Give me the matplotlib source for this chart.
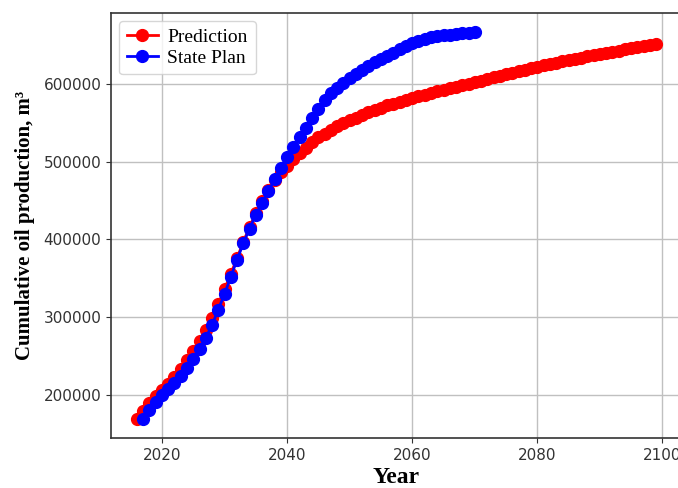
import matplotlib
matplotlib.use("Agg")
import matplotlib.pyplot as plt
import numpy as np

# cumulative oil production, m3
pred_years = np.arange(2016, 2100)
pred_values = [
    170000, 180000, 190000, 199000, 207000, 215000, 224000, 234000, 245000, 257000,
    270000, 284000, 299000, 317000, 336000, 356000, 376000, 397000, 416000, 434000,
    449000, 463000, 476000, 486000, 494000, 503000, 511000, 518000, 525000, 531000,
    536000, 541000, 545500, 549500, 553000, 556500, 560000, 563000, 566000, 569000,
    572000, 574500, 577000, 579500, 582000, 584000, 586000, 588000, 590000, 592000,
    594000, 596000, 598000, 600000, 602000, 604000, 606000, 608000, 610000, 612000,
    614000, 616000, 618000, 620000, 622000, 623700, 625400, 627000, 628600, 630200,
    631800, 633400, 635000, 636500, 638000, 639500, 641000, 642500, 644000, 645500,
    646800, 648100, 649500, 651000,
]

plan_years = np.arange(2017, 2071)
plan_values = [
    170000, 181000, 191000, 200000, 208000, 216000, 225000, 235000, 247000, 260000,
    274000, 290000, 310000, 330000, 352000, 374000, 395000, 414000, 432000, 447000,
    462000, 477000, 492000, 506000, 519000, 531000, 543000, 556000, 568000, 579000,
    588000, 595000, 601000, 607000, 613000, 618000, 623000, 627500, 631500, 635500,
    640000, 644000, 648000, 652000, 655000, 657500, 659500, 661000, 662000, 663000,
    664000, 665000, 665500, 666000,
]

fig = plt.figure(figsize=(6.78, 4.88), dpi=100)
ax = fig.add_axes([0.1637, 0.1025, 0.8425, 0.871])

ax.plot(pred_years, pred_values, "-o", color="red", lw=2, ms=8.5, label="Prediction")
ax.plot(plan_years, plan_values, "-o", color="blue", lw=2, ms=8.5, label="State Plan")

ax.set_xticks([2020, 2040, 2060, 2080, 2100])
ax.set_yticks([200000, 300000, 400000, 500000, 600000])
ax.tick_params(labelsize=11, labelcolor="#333333", color="#333333")
ax.grid(True, color="#c0c0c0", lw=1)

for s in ax.spines.values():
    s.set_color("#333333")
    s.set_linewidth(1.2)

ax.set_xlabel("Year", family="Liberation Serif", weight="bold", fontsize=17, labelpad=3)
ax.set_ylabel("Cumulative oil production, m³", family="Liberation Serif",
              weight="bold", fontsize=15, labelpad=6)
ax.legend(loc="upper left", prop={"family": "Liberation Serif", "size": 14},
          handlelength=1.6, handletextpad=0.5, borderaxespad=0.4, labelspacing=0.15)

fig.savefig("out.png", dpi=100)
